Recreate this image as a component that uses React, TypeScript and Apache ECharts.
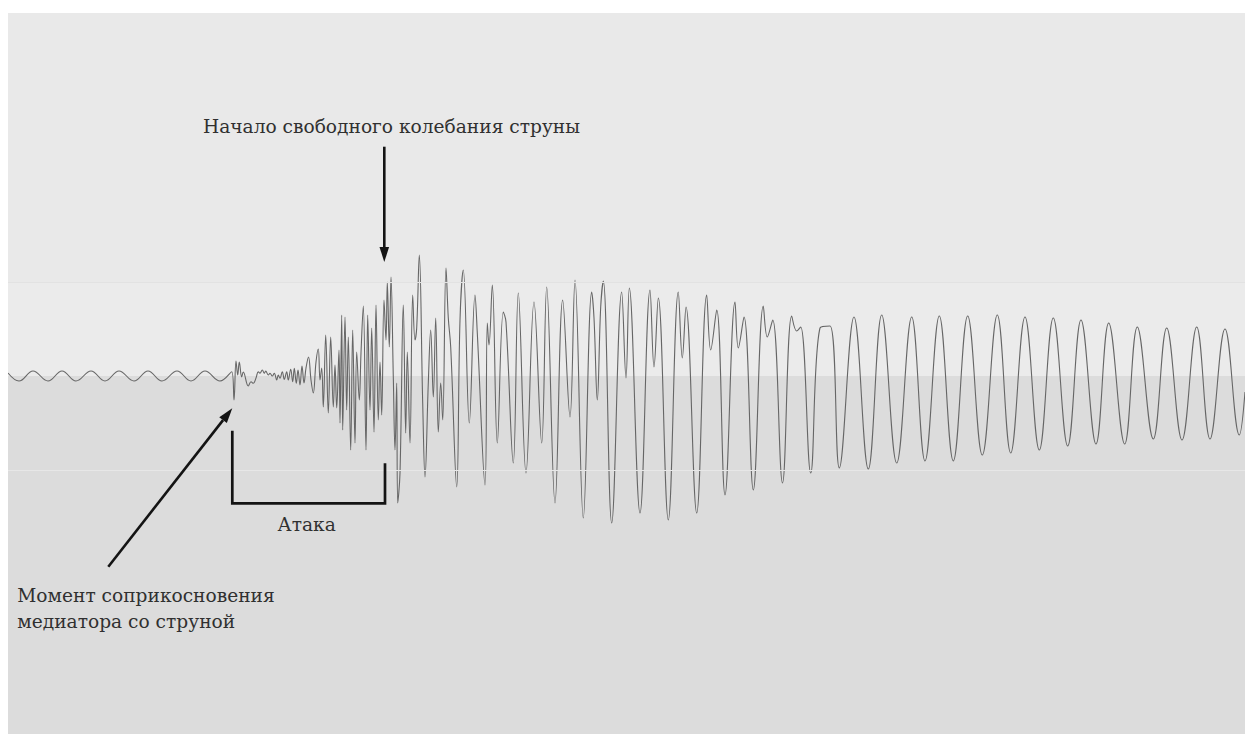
import React, { useEffect, useRef } from "react";
import * as echarts from "echarts";

// Time (arbitrary sample units) of each read extreme / turning point of the waveform
const time: number[] = [
  0, 11, 25, 40, 54, 68, 83, 97, 111, 126, 140, 154, 169, 183, 197, 212, 223.7,
  226, 228, 229.7, 231.3, 233.7, 235.3, 240.3, 243, 245.3, 248, 250.3, 252, 254.3, 256.3, 257.7,
  260.3, 262, 264.3, 266.3, 268.7, 270.3, 272, 274.3, 276.3, 278.7, 280.3, 282.7, 284.7, 286.3,
  288.3, 290, 292, 294, 296, 298, 300.5, 303, 305.3, 308, 310.3, 312, 313.7, 315.3, 317.7, 320.3,
  322.7, 325.3, 327, 328.7, 331, 332, 333.7, 334.7, 337, 338.7, 340.3, 342.7, 344.7, 347, 348.7,
  351.3, 353, 355.3, 358, 359.7, 362, 363.7, 366, 368, 370.3, 372, 373.7, 376, 378, 379.3, 381.3,
  383, 385.3, 387, 388.7, 389.7, 392, 395.3, 397.7, 399.3, 402, 404.7, 407, 408.7, 411.3, 414.7,
  417, 420.3, 422.7, 425.3, 427.7, 430.3, 432.7, 434.7, 438, 440.3, 442.7, 448.7, 452, 455.3,
  461.3, 467, 469.3, 477, 479.3, 481, 484.3, 489.3, 495.3, 498, 505.3, 510.3, 518, 526, 533.7,
  538.7, 547, 554.7, 562, 567, 575.3, 583.7, 586, 589.3, 592.7, 595.3, 603.7, 613.7, 618, 621.3,
  632, 642, 646, 650.3, 660.3, 670.3, 674.3, 678, 688.7, 698.7, 702.7, 708.7, 717, 727, 730.3,
  736, 745.3, 755.3, 759.3, 764.7, 774.5, 783.7, 788.7, 792.7, 802.7, 812, 822, 831.3, 846,
  860.3, 873.7, 888.7, 903.7, 917, 931.3, 945.3, 959.7, 974.3, 989.3, 1002.7, 1017, 1031.3,
  1045.3, 1059.7, 1073, 1088, 1100.7, 1116.7, 1129.3, 1145.3, 1158.7, 1174, 1188.7, 1202, 1217,
  1231.3, 1237,
];

// Amplitude at each of those points (arbitrary units, 0 = rest position)
const amplitude: number[] = [
  3, -5, 5, -5, 5, -5, 5, -5, 5, -5, 5, -5, 5, -5, 5, -5, 4.3,
  -24, 15, 1, 14, -1, 4, -10, -5.7, -7.3, -2, 4.3, 2.7, 6, 2.7, 5,
  1, 2.7, 0, 2.7, -4, 1, -2.3, 4.3, -3.3, 4.3, -4, 6.7, -5.7, 7.7,
  -7.3, 6, -9, 10, -7, 8, 19, -4, -17, 14, 27, -4, 8, -31, 41, -37,
  39, -31, 11, -32, 26, -47, 61, -54, 59, -34, 39, -74, 46, -67, 24,
  -24, 23, 70, -74, 61, -34, 48, -56, 71, -44, 14, -39, 76, 36, 94, 29,
  99, -1, -74, -7, -127, -97, 71, -57, 24, -67, 81, 36, 48, 121, -27,
  -101, -7, 46, -21, 58, -56, -7, -44, 108, 58, 29, -111, 56, 106,
  -47, 81, 43, -109, 53, 31, 91, -67, 64, 54, -87, 83, -97, 74, -67,
  89, -127, 76, -41, 96, -142, 84, 58, -24, 69, 95, -147, 84, -2, 88,
  -137, 86, 9, 78, -144, 84, 18, 69, -137, 81, 26, 66, -119, 74, 28,
  59, -114, 70, 39, 56, -107, 60, 45, 49, -97, 48, 50, -92, 59,
  -93, 61, -87, 59, -85, 60, -85, 60, -79, 61, -77, 59, -74,
  58, -70, 56, -68, 53, -68, 49, -63, 48, -64, 49, -63, 47,
  -59, -16,
];

const bandLevels: number[] = [94, 0, -94];

const titleText = "Начало свободного колебания струны";
const contactLines = ["Момент соприкосновения", "медиатора со струной"];
const attackText = "Атака";

const FONT = '"DejaVu Serif", serif';
const INK = "#141414";
const TEXT_COLOR = "#303030";

function arrowHead(tx: number, ty: number, fx: number, fy: number, len: number, half: number) {
  const dx = tx - fx;
  const dy = ty - fy;
  const l = Math.sqrt(dx * dx + dy * dy);
  const ux = dx / l;
  const uy = dy / l;
  const bx = tx - ux * len;
  const by = ty - uy * len;
  const px = -uy * half;
  const py = ux * half;
  return {
    base: [bx, by],
    pts: [
      [tx, ty],
      [bx + px, by + py],
      [bx - px, by - py],
    ],
  };
}

function label(text: string, x: number, y: number, align: string) {
  return {
    type: "text",
    x,
    y,
    z: 100,
    style: {
      text,
      fill: TEXT_COLOR,
      font: `18.6px ${FONT}`,
      textAlign: align,
      textVerticalAlign: "middle",
    },
  };
}

export default function App() {
  const ref = useRef<HTMLDivElement>(null);
  useEffect(() => {
    if (!ref.current) return;
    const chart = echarts.init(ref.current, undefined, { renderer: "svg" });
    const data = time.map((t, i) => [t, amplitude[i]]);

    const vHead = arrowHead(376.3, 249, 376.3, 133.7, 15, 4.8);
    const dHead = arrowHead(224.3, 395.3, 100.3, 553.7, 15, 4.8);

    chart.setOption({
      animation: false,
      backgroundColor: "#dcdcdc",
      grid: { left: 0, right: 0, top: 0, bottom: 0 },
      xAxis: { type: "value", min: 0, max: 1237, show: false },
      yAxis: { type: "value", min: -358, max: 363, show: false },
      series: [
        {
          type: "line",
          data,
          symbol: "none",
          showSymbol: false,
          smooth: 0.4,
          lineStyle: { color: "#666666", width: 1.1 },
          markArea: {
            silent: true,
            data: [
              [{ yAxis: bandLevels[0], itemStyle: { color: "#e9e9e9" } }, { yAxis: 363 }],
              [{ yAxis: bandLevels[1], itemStyle: { color: "#ebebeb" } }, { yAxis: bandLevels[0] }],
            ],
          },
          markLine: {
            silent: true,
            symbol: "none",
            label: { show: false },
            data: [
              { yAxis: bandLevels[0], lineStyle: { color: "#e2e2e2", width: 1, type: "solid" } },
              { yAxis: bandLevels[2], lineStyle: { color: "#e7e7e7", width: 1, type: "solid" } },
            ],
          },
          z: 3,
        },
      ],
      graphic: {
        elements: [
          label(titleText, 383.5, 113, "center"),
          {
            type: "polyline",
            z: 100,
            shape: {
              points: [
                [376.3, 133.7],
                [vHead.base[0], vHead.base[1] + 1],
              ],
            },
            style: { stroke: INK, lineWidth: 2.6, fill: null },
          },
          { type: "polygon", z: 100, shape: { points: vHead.pts }, style: { fill: INK } },
          {
            type: "polyline",
            z: 100,
            shape: {
              points: [
                [100.3, 553.7],
                [dHead.base[0], dHead.base[1]],
              ],
            },
            style: { stroke: INK, lineWidth: 2.6, fill: null },
          },
          { type: "polygon", z: 100, shape: { points: dHead.pts }, style: { fill: INK } },
          {
            type: "polyline",
            z: 100,
            shape: {
              points: [
                [224.3, 417.7],
                [224.3, 490.3],
                [377, 490.3],
                [377, 450.3],
              ],
            },
            style: { stroke: INK, lineWidth: 2.7, fill: null, lineJoin: "miter" },
          },
          label(attackText, 298.7, 511, "center"),
          label(contactLines[0], 9.3, 582.3, "left"),
          label(contactLines[1], 9.3, 608, "left"),
        ],
      },
    });
    return () => chart.dispose();
  }, []);
  return (
    <div
      ref={ref}
      style={{ position: "absolute", left: 8, top: 13, width: 1237, height: 721 }}
    />
  );
}
